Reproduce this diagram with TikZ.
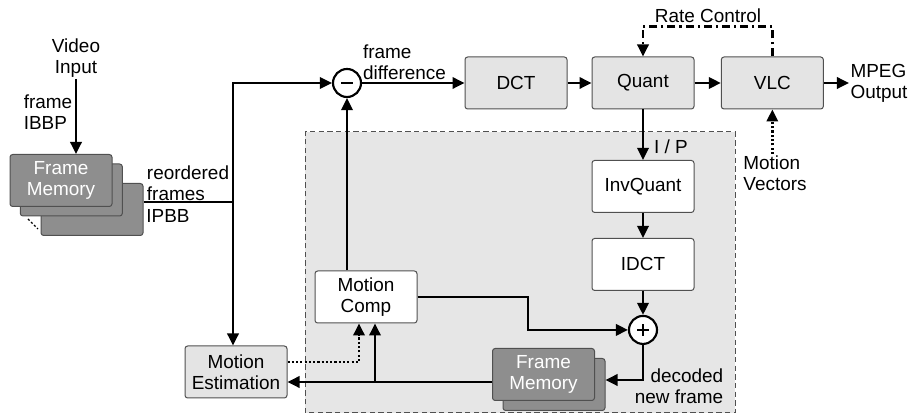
\documentclass[tikz,border=0pt]{standalone}
\usepackage{fontspec}
\setmainfont{Liberation Sans}
\usetikzlibrary{arrows.meta}
\definecolor{boxgray}{HTML}{E4E4E4}
\definecolor{areagray}{HTML}{E6E6E6}
\definecolor{memgray}{HTML}{8E8E8E}
\definecolor{edgegray}{HTML}{505050}
\begin{document}
\begin{tikzpicture}[
    x=0.75pt,
    y=0.75pt,
    font=\fontsize{14.2}{15.8}\selectfont,
    block/.style={
        rectangle,
        rounded corners=2pt,
        draw=edgegray,
        line width=0.75pt,
        fill=boxgray,
        minimum width=76.5pt,
        minimum height=39pt,
        align=center
    },
    wblock/.style={
        block,
        fill=white
    },
    memory/.style={
        block,
        fill=memgray,
        text=white
    },
    sum/.style={
        circle,
        draw,
        line width=1.6pt,
        fill=white,
        minimum size=21pt,
        inner sep=0pt
    },
    minus/.style={
        sum,
        path picture={\draw [line width=1.7pt] ([xshift=-4.5pt]path picture bounding box.center) -- ([xshift=4.5pt]path picture bounding box.center);}
    },
    plus/.style={
        sum,
        path picture={\draw [line width=1.7pt] ([xshift=-4.5pt]path picture bounding box.center) -- ([xshift=4.5pt]path picture bounding box.center)
            ([yshift=-4.5pt]path picture bounding box.center) -- ([yshift=4.5pt]path picture bounding box.center);}
    },
    arrow/.style={
        ->,
        >={Triangle[length=9pt,width=8.5pt]},
        line width=1.8pt
    },
    dots/.style={
        dash pattern=on 1.6pt off 1.6pt
    },
    ratectl/.style={
        dash pattern=on 6pt off 3pt on 1.6pt off 3pt
    },
    area/.style={
        fill=areagray,
        draw=edgegray,
        line width=0.75pt,
        dash pattern=on 4pt off 2.5pt
    },
    txt/.style={
        align=left,
        inner sep=1pt
    }
]
\useasboundingbox (0,0) rectangle (908,417);

% Decoder loop area
\draw [area] (305,4) rectangle (735,285);

% Blocks
\node [block] (dct) at (516,334) {DCT};
\node [block, right of=dct, node distance=95.25pt] (quant) {Quant};
\node [block, right of=quant, node distance=97pt] (vlc) {VLC};
\node [txt, right of=vlc, node distance=80pt] (mpeg) {MPEG\\Output};
\node [wblock, below of=quant, node distance=77.6pt] (invq) {InvQuant};
\node [wblock, below of=invq, node distance=58.5pt] (idct) {IDCT};
\node [plus, below of=idct, node distance=49.1pt] (plus) {};
\node [minus] (minus) at (347,334) {};
\node [wblock] (mc) at (366,120) {Motion\\Comp};
\node [block] (me) at (236,45) {Motion\\Estimation};

% Frame memories
\node [memory] (fmc) at (92,207.5) {};
\node [memory] (fmb) at (71.3,227) {};
\node [memory] (fma) at (61,236.5) {Frame\\Memory};
\draw [dots, line width=1pt] (28,198) -- (38,188);
\node [memory] (fmd) at (554,32.5) {};
\node [memory] (fme) at (543.5,42.5) {Frame\\Memory};

% Labels
\node [txt, align=center] (video) at (76,359) {Video\\Input};
\node [txt] (ibbp) at (48,305) {frame\\IBBP};
\node [txt] (reord) at (188,234) {reordered\\frames};
\node [txt] (ipbb) at (168,201) {IPBB};
\node [txt] (fdiff) at (404.5,355) {frame\\difference};
\node [txt] (rctl) at (708,401) {Rate Control};
\node [txt] (ip) at (671,270) {I / P};
\node [txt] (mv) at (775,244) {Motion\\Vectors};
\node [txt, align=right] (decl) at (679,31) {decoded\\new frame};

% Coordinates
\coordinate (split) at (233,215);
\coordinate (tap) at (375,35);
\coordinate (mvp) at (359,55);
\coordinate (bend) at (528,120);
\coordinate (dec) at (643,37);

% Connections
\draw [arrow] (video) -- (video |- fma.north);
\draw [line width=1.8pt] (fmc.east |- split) -- (split);
\draw [arrow] (split) |- (minus.west);
\draw [arrow] (split) -- (split |- me.north);
\draw [arrow] (minus) -- (dct);
\draw [arrow] (dct) -- (quant);
\draw [arrow] (quant) -- (vlc);
\draw [arrow] (vlc) -- (mpeg);
\draw [arrow, ratectl] (vlc.north) -- ++(0,30) -| (quant.north);
\draw [arrow, dots] (vlc.south |- mv.north) -- (vlc.south);
\draw [arrow] (quant) -- (invq);
\draw [arrow] (invq) -- (idct);
\draw [arrow] (idct) -- (plus);
\draw [arrow] (plus) -- (dec) -- (fmd.east |- dec);
\draw [arrow] (fme.west |- tap) -- (me.east |- tap);
\draw [arrow] (tap) -- (tap |- mc.south);
\draw [arrow, dots] (me.east |- mvp) -- (mvp) -- (mvp |- mc.south);
\draw [arrow] (minus |- mc.north) -- (minus);
\draw [arrow] (mc.east) -- (bend) |- (plus.west);

\end{tikzpicture}
\end{document}
